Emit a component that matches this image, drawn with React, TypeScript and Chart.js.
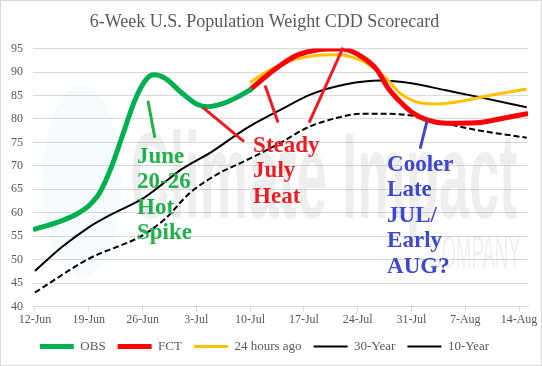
import { useEffect, useRef } from 'react';
import { Chart, registerables } from 'chart.js';

Chart.register(...registerables);

const SERIF = "'Liberation Serif', 'Times New Roman', serif";

const tickLabels = ['12-Jun', '19-Jun', '26-Jun', '3-Jul', '10-Jul', '17-Jul', '24-Jul', '31-Jul', '7-Aug', '14-Aug'];
const tickDays = [0, 7, 14, 21, 28, 35, 42, 49, 56, 63];

const obsDays = [0, 3, 5.5, 7, 8.5, 10, 11.5, 13, 14.5, 15.5, 17, 19, 21, 22.5, 24.5, 26.5, 28];
const obsValues = [56.5, 58, 59.8, 61.5, 64.5, 70, 77, 84, 88.5, 89.4, 88.6, 85.7, 83.2, 82.6, 83.3, 84.8, 86.2];

const fctDays = [28, 30, 32, 34, 36, 38, 40, 42.5, 44.5, 46, 47.5, 49, 51, 53.5, 57.5, 60.5, 64];
const fctValues = [86.2, 89, 91.5, 93.5, 94.5, 94.9, 94.9, 93.3, 90.5, 86.5, 83.7, 81.5, 79.8, 79.1, 79.2, 80, 81.1];

const prevDays = [28, 30.2, 32, 34.1, 37, 39.3, 42.3, 44, 45.8, 47.5, 49.5, 52, 55.5, 59.5, 64];
const prevValues = [87.8, 90.1, 91.6, 92.8, 93.6, 93.7, 92.6, 91, 88.5, 85.5, 83.7, 83.2, 83.8, 85.1, 86.4];

const norm30Days = [0, 7, 14, 17, 20, 23.5, 27.5, 31.5, 35.5, 39, 42.5, 46, 49.5, 53.5, 58, 64];
const norm30Values = [43, 50.2, 55.2, 58.8, 64, 68, 71.2, 74.5, 78.2, 80.1, 81.1, 81.1, 80.6, 79, 77.5, 76];

const norm10Days = [0, 3.5, 7, 10, 14, 16.5, 19, 23, 27.5, 32, 36, 40.5, 45, 49, 53.5, 58, 64];
const norm10Values = [47.6, 52.7, 56.9, 59.7, 63, 66, 69.2, 73, 78, 82, 85.3, 87.4, 88.2, 87.6, 86.1, 84.6, 82.5];

const annotations = [
  {
    color: '#22b14c',
    lines: [[14.7, 83.9, 15.6, 76.0]],
    textDay: 13.28,
    textValue: 70.7,
    text: ['June', '20-26', 'Hot', 'Spike'],
  },
  {
    color: '#ed1c24',
    lines: [
      [21.88, 82.43, 27.21, 75.18],
      [29.95, 87.12, 31.64, 79.23],
      [40.1, 95.22, 35.68, 79.23],
    ],
    textDay: 28.39,
    textValue: 73.05,
    text: ['Steady', 'July', 'Heat'],
  },
  {
    color: '#3f48cc',
    lines: [[51.04, 79.66, 50.13, 73.69]],
    textDay: 45.83,
    textValue: 69.0,
    text: ['Cooler', 'Late', 'JUL/', 'Early', 'AUG?'],
  },
];

const pts = (days: number[], vals: number[]) => days.map((d, i) => ({ x: d, y: vals[i] }));

const watermarkPlugin = {
  id: 'watermark',
  beforeDatasetsDraw(chart: any) {
    const { ctx, chartArea, scales } = chart;
    const xs = scales.x;
    const ys = scales.y;
    ctx.save();
    ctx.beginPath();
    ctx.rect(chartArea.left, chartArea.top, chartArea.right - chartArea.left, chartArea.bottom - chartArea.top);
    ctx.clip();
    // faint logo shape on the left
    const cx = xs.getPixelForValue(6.1);
    const cy = ys.getPixelForValue(66.7);
    const rx = xs.getPixelForValue(11.2) - cx;
    const ry = cy - ys.getPixelForValue(87.2);
    ctx.fillStyle = 'rgba(140, 205, 222, 0.09)';
    ctx.beginPath();
    ctx.ellipse(cx, cy, rx, ry, 0, 0, Math.PI * 2);
    ctx.fill();

    ctx.fillStyle = 'rgba(0,0,0,0.065)';
    ctx.textBaseline = 'alphabetic';
    const drawScaled = (text: string, font: string, d0: number, d1: number, v: number) => {
      ctx.font = font;
      const w = ctx.measureText(text).width;
      const x0 = xs.getPixelForValue(d0);
      const x1 = xs.getPixelForValue(d1);
      const y = ys.getPixelForValue(v);
      ctx.save();
      ctx.translate(x0, y);
      ctx.scale((x1 - x0) / w, 1);
      ctx.fillText(text, 0, 0);
      ctx.restore();
    };
    drawScaled('Climate Impact', "bold 123px 'Liberation Sans', Arial, sans-serif", 12.4, 62.8, 58.8);
    drawScaled('COMPANY', "47px 'Liberation Sans', Arial, sans-serif", 51.2, 63.2, 48.3);
    ctx.restore();
  },
};

const annotationPlugin = {
  id: 'annotations',
  afterDatasetsDraw(chart: any) {
    const { ctx, scales } = chart;
    const xs = scales.x;
    const ys = scales.y;
    ctx.save();
    for (const a of annotations) {
      ctx.strokeStyle = a.color;
      ctx.lineWidth = 3;
      ctx.lineCap = 'butt';
      for (const l of a.lines) {
        ctx.beginPath();
        ctx.moveTo(xs.getPixelForValue(l[0]), ys.getPixelForValue(l[1]));
        ctx.lineTo(xs.getPixelForValue(l[2]), ys.getPixelForValue(l[3]));
        ctx.stroke();
      }
      ctx.fillStyle = a.color;
      ctx.font = `bold 23px ${SERIF}`;
      ctx.textAlign = 'left';
      ctx.textBaseline = 'alphabetic';
      const x = xs.getPixelForValue(a.textDay);
      const y = ys.getPixelForValue(a.textValue);
      a.text.forEach((t, i) => ctx.fillText(t, x, y + i * 25.6));
    }
    ctx.restore();
  },
};

export default function App() {
  const ref = useRef<HTMLCanvasElement | null>(null);

  useEffect(() => {
    document.body.style.margin = '0';
    if (!ref.current) return;
    const chart = new Chart(ref.current, {
      type: 'line',
      data: {
        datasets: [
          {
            label: 'OBS',
            data: pts(obsDays, obsValues),
            borderColor: '#00b050',
            backgroundColor: '#00b050',
            borderWidth: 5,
            borderCapStyle: 'round',
          },
          {
            label: 'FCT',
            data: pts(fctDays, fctValues),
            borderColor: '#ff0000',
            backgroundColor: '#ff0000',
            borderWidth: 5,
            borderCapStyle: 'round',
          },
          {
            label: '24 hours ago',
            data: pts(prevDays, prevValues),
            borderColor: '#ffc000',
            backgroundColor: '#ffc000',
            borderWidth: 3,
          },
          {
            label: '30-Year',
            data: pts(norm30Days, norm30Values),
            borderColor: '#000000',
            backgroundColor: '#000000',
            borderWidth: 2,
            borderDash: [6, 3],
          },
          {
            label: '10-Year',
            data: pts(norm10Days, norm10Values),
            borderColor: '#000000',
            backgroundColor: '#000000',
            borderWidth: 2,
          },
        ] as any,
      },
      options: {
        animation: false,
        responsive: false,
        devicePixelRatio: 1,
        elements: {
          point: { radius: 0, hoverRadius: 0 },
          line: { cubicInterpolationMode: 'monotone', fill: false },
        },
        layout: { padding: { left: 0, right: 13, top: 0, bottom: 2 } },
        scales: {
          x: {
            type: 'linear',
            min: -0.26,
            max: 64.17,
            afterBuildTicks: (s: any) => {
              s.ticks = tickDays.map((v) => ({ value: v }));
            },
            ticks: {
              autoSkip: false,
              maxRotation: 0,
              padding: 1,
              color: '#595959',
              font: { family: SERIF, size: 12 },
              callback: (v: any) => tickLabels[tickDays.indexOf(Number(v))] ?? '',
            },
            grid: { drawOnChartArea: false, drawTicks: true, tickLength: 5, color: '#d9d9d9' },
            border: { color: '#d9d9d9' },
          },
          y: {
            min: 40,
            max: 95,
            afterFit: (s: any) => {
              s.width = 32;
            },
            ticks: {
              stepSize: 5,
              padding: 10,
              color: '#595959',
              font: { family: SERIF, size: 12 },
            },
            grid: { color: '#d9d9d9', drawTicks: false },
            border: { display: false },
          },
        },
        plugins: {
          title: {
            display: true,
            text: '6-Week U.S. Population Weight CDD Scorecard',
            color: '#595959',
            font: { family: SERIF, size: 18, weight: 'normal' },
            padding: { top: 10, bottom: 16 },
          },
          legend: {
            position: 'bottom',
            labels: {
              usePointStyle: true,
              pointStyle: 'line',
              pointStyleWidth: 34,
              padding: 12,
              color: '#595959',
              font: { family: SERIF, size: 13 },
            },
          },
          tooltip: { enabled: false },
        },
      } as any,
      plugins: [watermarkPlugin, annotationPlugin],
    });
    return () => chart.destroy();
  }, []);

  return (
    <div
      style={{
        width: 542,
        height: 366,
        border: '1px solid #d9d9d9',
        boxSizing: 'border-box',
        background: '#ffffff',
      }}
    >
      <canvas ref={ref} width={540} height={364} style={{ display: 'block' }} />
    </div>
  );
}
